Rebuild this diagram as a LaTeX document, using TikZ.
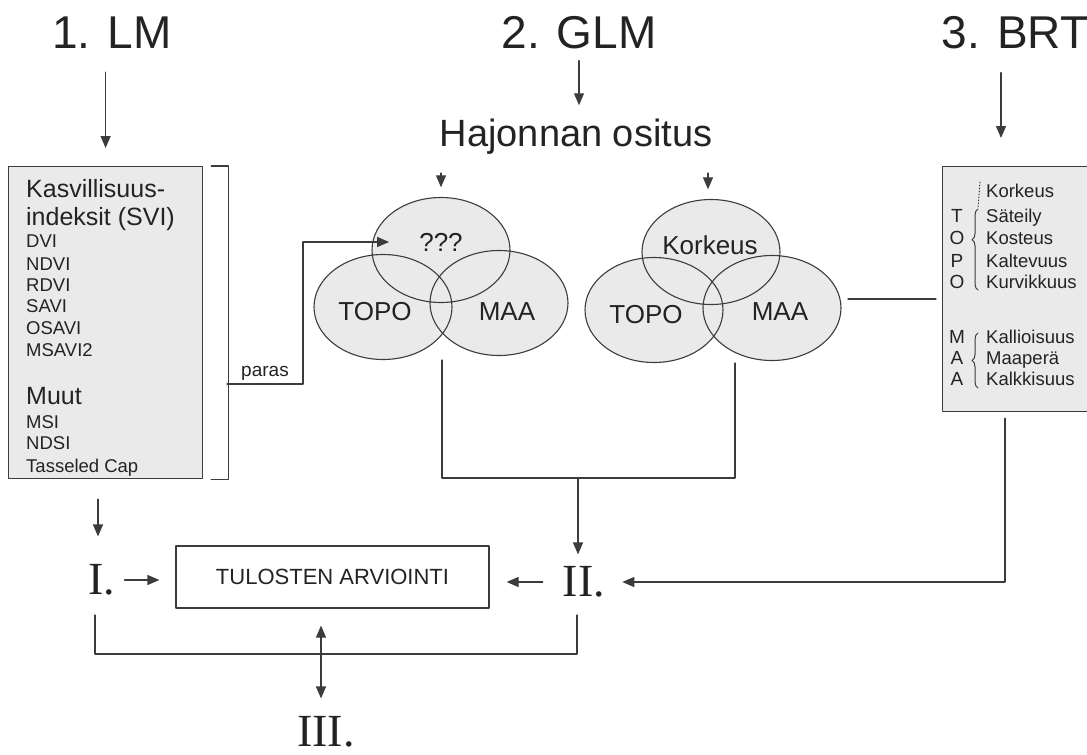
\documentclass[tikz,border=0pt]{standalone}
\usepackage[svgnames]{xcolor}
\usepackage{fontspec}
\setmainfont{Liberation Sans}
\newfontfamily\romfont{Liberation Serif}
\usepackage{tikz}
\usetikzlibrary{arrows.meta}
\usetikzlibrary{positioning}
\usetikzlibrary{shapes.geometric}
\usetikzlibrary{decorations.pathreplacing}
\definecolor{boxgray}{RGB}{234,234,234}
\definecolor{linegray}{RGB}{60,60,60}
\definecolor{textgray}{RGB}{35,35,35}
\newcommand{\fs}[1]{\fontsize{#1}{#1}\selectfont}

\begin{document}
\begin{tikzpicture}[line cap=round,line join=round,>={Triangle[length=12pt,width=10pt]},x=1pt,y=-1pt,
  every node/.style={inner sep=0pt,text=textgray},
  conn/.style={draw=linegray,line width=1.2pt},
  graybox/.style={draw=linegray,fill=boxgray,line width=1.2pt,rectangle,anchor=north west},
  venn/.style={ellipse,fill=boxgray,minimum width=138pt,minimum height=105pt},
  ttl/.style={anchor=base,font=\fs{46}},
  roman/.style={font=\romfont\fs{46}},
  lrg/.style={anchor=base west,font=\fs{25}},
  sml/.style={anchor=base west,font=\fs{18.5}}]
\useasboundingbox (0,0) rectangle (1087,755);

% otsikot
\node[ttl] (lm) at (112,48) {1. LM};
\node[ttl] (glm) at (579,48) {2. GLM};
\node[ttl] (brt) at (1015,48) {3. BRT};
\node[anchor=base,font=\fs{38}] (hajonta) at (576,146) {Hajonnan ositus};

% 1. LM laatikko
\node[graybox,minimum width=194pt,minimum height=312pt] (svibox) at (8,166) {};
\node[lrg] (svi1) at (26,197) {Kasvillisuus-};
\node[lrg] (svi2) at (26,225) {indeksit (SVI)};
\foreach \t/\y in {DVI/247,NDVI/270,RDVI/291,SAVI/312,OSAVI/334,MSAVI2/356,MSI/428,NDSI/449,Tasseled Cap/472}
  \node[sml] (ind\y) at (26,\y) {\t};
\node[lrg] (muut) at (26,404) {Muut};
\draw[conn] ([xshift=8]svibox.north east) -| ([xshift=25]svibox.south east) -- ([xshift=8]svibox.south east);

% 2. GLM venn
\foreach \n/\x/\y in {vla/441/250,vlb/383/307,vlc/499/303,vra/711/252,vrb/654/310,vrc/772/308}
  \node[venn] (\n) at (\x,\y) {};
\foreach \n in {vla,vlb,vlc,vra,vrb,vrc}
  \draw[linegray,line width=1.1pt] (\n.center) ellipse [x radius=69pt,y radius=52.5pt];
\node[font=\fs{26}] (qm) at (441,242) {???};
\node[font=\fs{26}] (topol) at (375,312) {TOPO};
\node[font=\fs{26}] (maal) at (507,312) {MAA};
\node[font=\fs{26}] (kork) at (710,245) {Korkeus};
\node[font=\fs{26}] (topor) at (646,315) {TOPO};
\node[font=\fs{26}] (maar) at (780,312) {MAA};

% 3. BRT laatikko
\node[graybox,minimum width=145pt,minimum height=245pt] (brtbox) at (942,166) {};
\foreach \t/\y in {T/222,O/244,P/267,O/288,M/343,A/364,A/385}
  \node[font=\fs{19},anchor=base] (k\y) at (957,\y) {\t};
\foreach \t/\y in {Korkeus/197,Säteily/222,Kosteus/244,Kaltevuus/267,Kurvikkuus/288,Kallioisuus/343,Maaperä/364,Kalkkisuus/385}
  \node[sml] (m\y) at (986,\y) {\t};
\draw[linegray,line width=1pt,decorate,decoration={brace,amplitude=6pt,aspect=0.62}] (978,290) -- (978,209);
\draw[linegray,line width=1pt,decorate,decoration={brace,amplitude=6pt,aspect=0.5}] (978,388) -- (978,333);
\draw[linegray,line width=1pt,dotted] (980,182) -- (978,207);

% arvioinnit
\node[draw=linegray,line width=1.2pt,minimum width=313pt,minimum height=62pt,font=\fs{22}] (tulos) at (332.5,577) {TULOSTEN ARVIOINTI};
\node[roman] (I) at (102,580) {I.};
\node[roman] (II) at (584,582) {II.};
\node[roman] (III) at (326,732) {III.};

\coordinate (pb) at (227,384);
\coordinate (jl) at (442,360);
\coordinate (jr) at (735,363);
\coordinate (jm) at (578,478);
\coordinate (vm) at (848,299);
\coordinate (bl) at (95,615);
\coordinate (br) at (577,615);
\coordinate (bm) at (321,654);

% nuolet
\draw[conn,->,shorten <=24pt,shorten >=18pt] (lm.south -| svibox.north) -- (svibox.north);
\draw[conn,->,shorten <=12pt,shorten >=13pt] (glm.south) -- (hajonta.north -| glm.south);
\draw[conn,->,shorten <=24pt,shorten >=28pt] (brt.south -| 1001,0) -- (brtbox.north -| 1001,0);
\draw[conn,->,shorten <=19pt,shorten >=10pt] (hajonta.south -| vla.north) -- (vla.north);
\draw[conn,->,shorten <=19pt,shorten >=10pt] (hajonta.south -| 708,0) -- (vra.north -| 708,0);
\draw[conn,->,shorten >=30pt] (pb) -- node[above=3pt,font=\fs{19}] (paras) {paras} ++(76,0) |- (qm.west);
\draw[conn] (jl) |- (jm) -| (jr);
\draw[conn,->,shorten >=12pt] (jm) -- (II.north -| jm);
\draw[conn,shorten >=6pt] (vm) -- (vm -| brtbox.west);
\draw[conn,->,shorten <=20pt,shorten >=28pt] (svibox.south -| 98,0) -- (I.north -| 98,0);
\draw[conn,->,shorten <=9pt,shorten >=16pt] (I.east) -- (I.east -| tulos.west);
\draw[conn,->,shorten <=20pt,shorten >=17pt] (II.west) -- (II.west -| tulos.east);
\draw[conn,->,shorten <=6pt,shorten >=17pt] (brtbox.south -| 1005,0) |- (II.east);
\draw[conn] (bl) |- (bm) -| (br);
\draw[conn,<->,shorten <=17pt,shorten >=18pt] (tulos.south -| bm) -- (III.north -| bm);
\end{tikzpicture}
\end{document}
